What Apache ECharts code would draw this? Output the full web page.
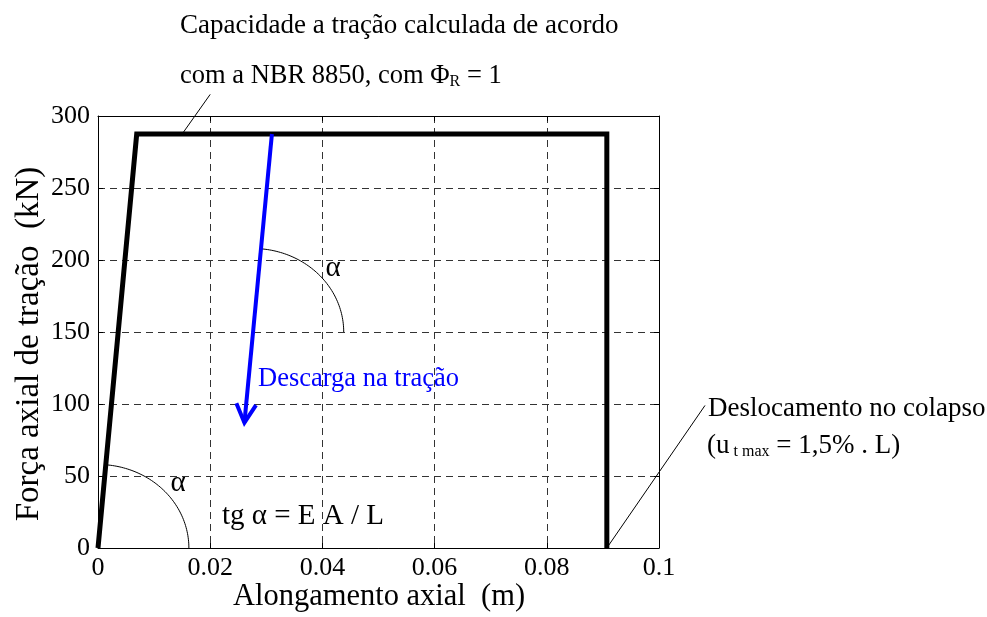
<!DOCTYPE html>
<html>
<head>
<meta charset="utf-8">
<script src="https://cdn.jsdelivr.net/npm/echarts@6/dist/echarts.min.js"></script>
<style>
  html, body { margin: 0; padding: 0; background: #fff; }
  #chart { width: 987px; height: 617px; }
</style>
</head>
<body>
<div id="chart"></div>
<script>
// curve: elastic loading, plastic plateau, collapse
const loadX = [0, 0.0069, 0.0907, 0.0907];
const loadY = [0, 287.5, 287.5, 0];
// unloading arrow (start -> tip)
const unloadX = [0.0310, 0.0261];
const unloadY = [287.5, 87];
// angle arcs (centres), radius in data units
const arcCentres = [[0, 0], [0.0276, 150]];
const arcRadius = [0.0162, 58];
// leader lines for the callouts [x0, y0, x1, y1]
const leaders = [[0.0150, 287.5, 0.0200, 315], [0.0907, 0, 0.1082, 99]];

const FONT = '"Liberation Serif", "Times New Roman", serif';
const chart = echarts.init(document.getElementById('chart'));

const pts = (xs, ys) => xs.map((x, i) => [x, ys[i]]);

function axisBase(extra) {
  return Object.assign({
    type: 'value',
    axisLine: { show: true, onZero: false, lineStyle: { color: '#000', width: 1 } },
    axisTick: { show: true, inside: true, length: 5, lineStyle: { color: '#000' } },
    axisLabel: { color: '#000', fontFamily: FONT, fontSize: 26 },
    splitLine: { show: false }
  }, extra);
}
const gridDash = { show: true, lineStyle: { color: '#333', width: 1, type: [7, 5] } };

chart.setOption({
  animation: false,
  backgroundColor: '#fff',
  grid: { left: 98, right: 328, top: 116, bottom: 69, outerBoundsMode: 'none', containLabel: false },
  xAxis: [
    axisBase({ min: 0, max: 0.1, interval: 0.02, position: 'bottom',
      splitLine: gridDash,
      axisLabel: { color: '#000', fontFamily: FONT, fontSize: 26, margin: 7 } }),
    axisBase({ min: 0, max: 0.1, interval: 0.02, position: 'top', axisLabel: { show: false } })
  ],
  yAxis: [
    axisBase({ min: 0, max: 300, interval: 50, position: 'left',
      splitLine: gridDash,
      axisLabel: { color: '#000', fontFamily: FONT, fontSize: 26, margin: 8 } }),
    axisBase({ min: 0, max: 300, interval: 50, position: 'right', axisLabel: { show: false } })
  ],
  graphic: [
    { type: 'text', x: 379, y: 597,
      style: { text: 'Alongamento axial  (m)', font: '30.5px ' + FONT, fill: '#000',
        align: 'center', verticalAlign: 'middle' } },
    { type: 'text', x: 29, y: 344, rotation: Math.PI / 2,
      style: { text: 'Força axial de tração  (kN)', font: '33px ' + FONT, fill: '#000',
        align: 'center', verticalAlign: 'middle' } },
    { type: 'text', x: 180, y: 26,
      style: { text: 'Capacidade a tração calculada de acordo', font: '27px ' + FONT, fill: '#000',
        align: 'left', verticalAlign: 'middle' } },
    { type: 'text', x: 180, y: 76,
      style: { text: 'com a NBR 8850, com Φ{sub|R} = 1', font: '26.5px ' + FONT, fill: '#000',
        align: 'left', verticalAlign: 'middle',
        rich: { sub: { font: '16px ' + FONT, fill: '#000', verticalAlign: 'bottom', lineHeight: 12 } } } },
    { type: 'text', x: 258, y: 379,
      style: { text: 'Descarga na tração', font: '26.5px ' + FONT, fill: '#0000ff',
        align: 'left', verticalAlign: 'middle' } },
    { type: 'text', x: 222, y: 516,
      style: { text: 'tg α = E A / L', font: '29px ' + FONT, fill: '#000',
        align: 'left', verticalAlign: 'middle' } },
    { type: 'text', x: 178, y: 483,
      style: { text: 'α', font: '29px ' + FONT, fill: '#000', align: 'center', verticalAlign: 'middle' } },
    { type: 'text', x: 333, y: 268,
      style: { text: 'α', font: '29px ' + FONT, fill: '#000', align: 'center', verticalAlign: 'middle' } },
    { type: 'text', x: 708, y: 409,
      style: { text: 'Deslocamento no colapso', font: '27px ' + FONT, fill: '#000',
        align: 'left', verticalAlign: 'middle' } },
    { type: 'text', x: 707, y: 446,
      style: { text: '(u{sub| t max} = 1,5% . L)', font: '27px ' + FONT, fill: '#000',
        align: 'left', verticalAlign: 'middle',
        rich: { sub: { font: '16px ' + FONT, fill: '#000', verticalAlign: 'bottom', lineHeight: 12 } } } }
  ],
  series: [
    {
      type: 'line', data: pts(loadX, loadY), symbol: 'none', clip: false, z: 5,
      lineStyle: { color: '#000', width: 5, cap: 'butt', join: 'miter' }
    },
    {
      // angle arcs
      type: 'custom', data: arcCentres, clip: false, z: 3,
      renderItem: (params, api) => {
        const c = api.coord([api.value(0), api.value(1)]);
        const rx = api.coord([api.value(0) + arcRadius[0], api.value(1)])[0] - c[0];
        const ry = c[1] - api.coord([api.value(0), api.value(1) + arcRadius[1]])[1];
        const p0 = api.coord([loadX[0], loadY[0]]);
        const p1 = api.coord([loadX[1], loadY[1]]);
        const th = Math.atan2(p0[1] - p1[1], p1[0] - p0[0]);
        const tEnd = Math.atan2(rx * Math.sin(th), ry * Math.cos(th));
        const poly = [];
        for (let i = 0; i <= 60; i++) {
          const t = tEnd * i / 60;
          poly.push([c[0] + rx * Math.cos(t), c[1] - ry * Math.sin(t)]);
        }
        return { type: 'polyline', shape: { points: poly },
          style: { stroke: '#000', lineWidth: 1, fill: null } };
      }
    },
    {
      // callout leader lines
      type: 'custom', data: leaders, clip: false, z: 3,
      renderItem: (params, api) => {
        const a = api.coord([api.value(0), api.value(1)]);
        const b = api.coord([api.value(2), api.value(3)]);
        return { type: 'line', shape: { x1: a[0], y1: a[1], x2: b[0], y2: b[1] },
          style: { stroke: '#000', lineWidth: 1 } };
      }
    },
    {
      // unloading arrow
      type: 'custom', data: [[unloadX[0], unloadY[0], unloadX[1], unloadY[1]]], clip: false, z: 6,
      renderItem: (params, api) => {
        const a = api.coord([api.value(0), api.value(1)]);
        const b = api.coord([api.value(2), api.value(3)]);
        const ang = Math.atan2(a[1] - b[1], a[0] - b[0]);
        const L = 21, w = 28 * Math.PI / 180;
        const wing = (s) => [b[0] + L * Math.cos(ang + s * w), b[1] + L * Math.sin(ang + s * w)];
        const st = { stroke: '#0000ff', lineWidth: 4, fill: null, lineCap: 'butt', lineJoin: 'miter' };
        return { type: 'group', children: [
          { type: 'line', shape: { x1: a[0], y1: a[1], x2: b[0], y2: b[1] }, style: st },
          { type: 'polyline', shape: { points: [wing(1), b, wing(-1)] }, style: st }
        ] };
      }
    }
  ]
});
</script>
</body>
</html>
